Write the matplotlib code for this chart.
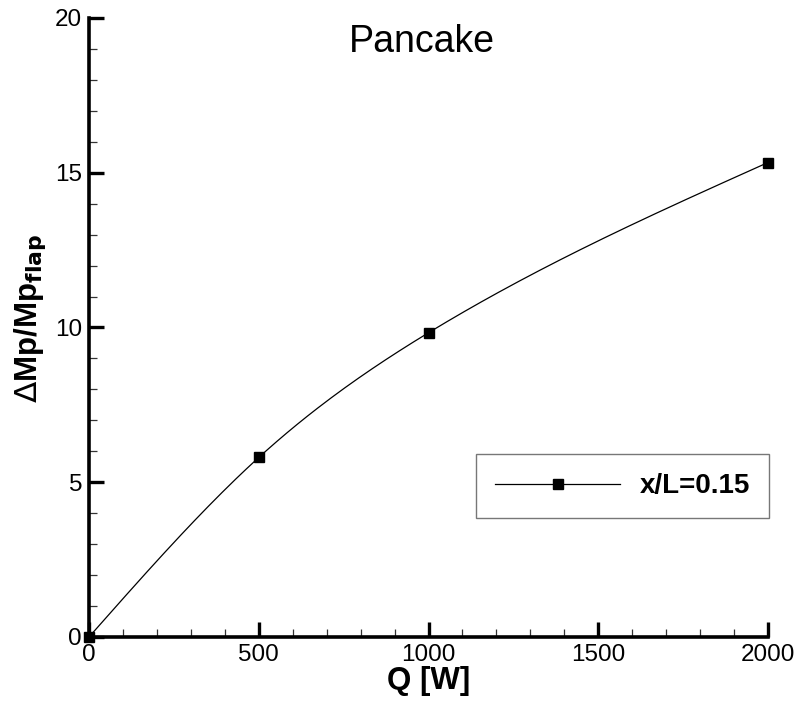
import numpy as np
import matplotlib.pyplot as plt
from matplotlib.ticker import MultipleLocator

plt.rcParams['font.family'] = ['Liberation Sans', 'DejaVu Sans']

# data
q = [0, 500, 1000, 2000]
dmp = [0.0, 5.8, 9.83, 15.33]
series_label = "x/L=0.15"


def natural_spline(x, y, n=200):
    # smooth curve through the points (like the Tecplot spline line)
    x = np.asarray(x, float)
    y = np.asarray(y, float)
    k = len(x)
    h = np.diff(x)
    A = np.zeros((k, k))
    b = np.zeros(k)
    A[0, 0] = A[-1, -1] = 1
    for i in range(1, k - 1):
        A[i, i - 1] = h[i - 1]
        A[i, i] = 2 * (h[i - 1] + h[i])
        A[i, i + 1] = h[i]
        b[i] = 6 * ((y[i + 1] - y[i]) / h[i] - (y[i] - y[i - 1]) / h[i - 1])
    M = np.linalg.solve(A, b)
    xs = np.linspace(x[0], x[-1], n)
    idx = np.clip(np.searchsorted(x, xs) - 1, 0, k - 2)
    x0, x1 = x[idx], x[idx + 1]
    hh = x1 - x0
    ys = (M[idx] * (x1 - xs) ** 3 / (6 * hh) + M[idx + 1] * (xs - x0) ** 3 / (6 * hh)
          + (y[idx] / hh - M[idx] * hh / 6) * (x1 - xs)
          + (y[idx + 1] / hh - M[idx + 1] * hh / 6) * (xs - x0))
    return xs, ys


fig = plt.figure(figsize=(7.97, 7.05), dpi=100)
ax = fig.add_axes([0.1117, 0.0965, 0.8519, 0.878])

xs, ys = natural_spline(q, dmp)
ax.plot(xs, ys, color='black', lw=0.9, clip_on=False)
ax.plot(q, dmp, linestyle='none', marker='s', ms=7, color='black', clip_on=False, zorder=5)

# legend proxy
ax.plot([], [], color='black', lw=0.9, marker='s', ms=7, label=series_label)

ax.set_xlim(0, 2000)
ax.set_ylim(0, 20)
ax.xaxis.set_major_locator(MultipleLocator(500))
ax.xaxis.set_minor_locator(MultipleLocator(100))
ax.yaxis.set_major_locator(MultipleLocator(5))
ax.yaxis.set_minor_locator(MultipleLocator(1))

for s in ['top', 'right']:
    ax.spines[s].set_visible(False)
for s in ['left', 'bottom']:
    ax.spines[s].set_linewidth(2.6)

ax.tick_params(which='major', direction='in', length=11, width=2.4, labelsize=17.5, pad=5)
ax.tick_params(which='minor', direction='in', length=6, width=0.9, color='#333333')

ax.set_xlabel("Q [W]", fontsize=22.5, fontweight='bold', labelpad=0)
ax.set_ylabel(r"$\Delta$Mp/Mp$_{\mathbf{flap}}$", fontsize=22.5, fontweight='bold')
ax.yaxis.set_label_coords(-0.06, 0.515)

ax.text(0.49, 0.961, "Pancake", transform=ax.transAxes, fontsize=27,
        ha='center', va='center')

leg = ax.legend(loc='lower right', bbox_to_anchor=(1.0015, 0.192),
                prop={'weight': 'bold', 'size': 20}, handlelength=4.5,
                fancybox=False, borderpad=0.68, handletextpad=0.7, borderaxespad=0)
leg.get_frame().set_edgecolor('#555555')
leg.get_frame().set_linewidth(1.0)

fig.savefig('out.png', dpi=100)
